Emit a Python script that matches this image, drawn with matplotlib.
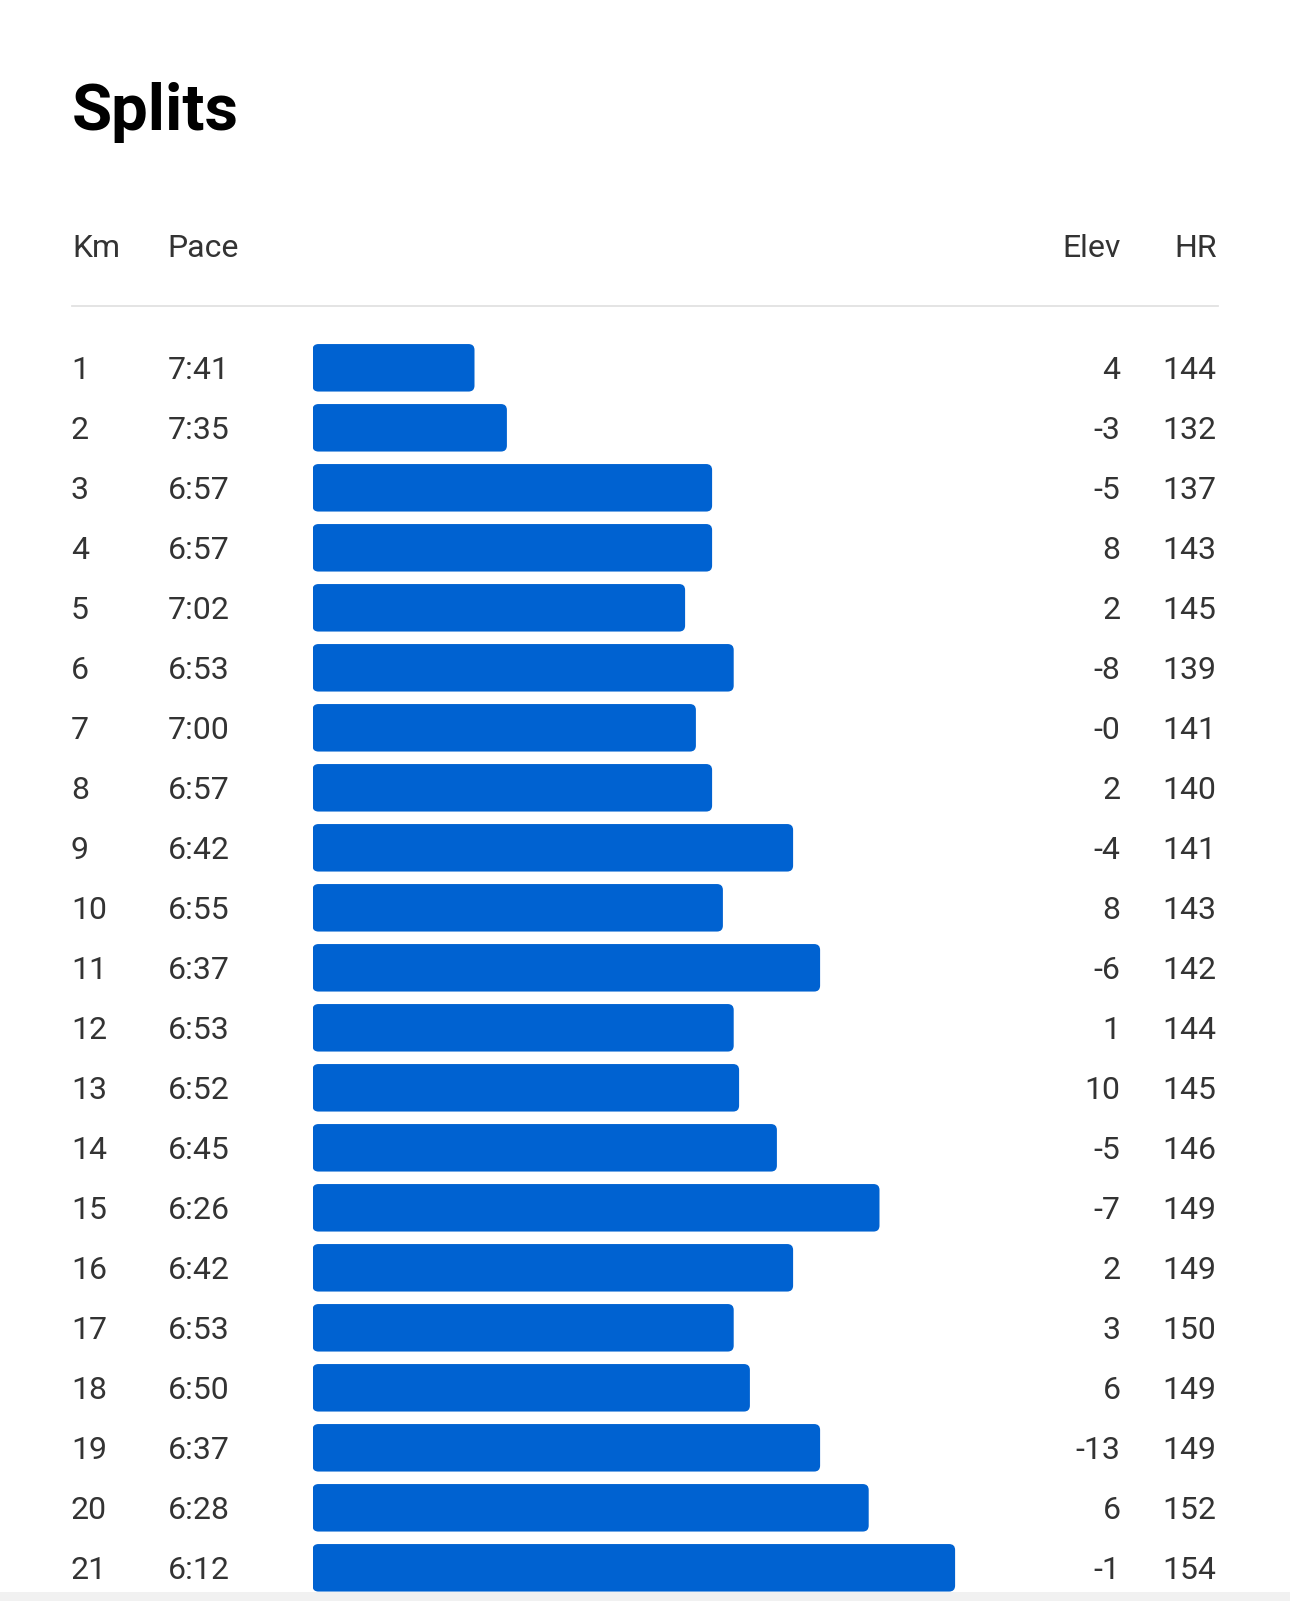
import matplotlib.pyplot as plt
import matplotlib.transforms as mtransforms
from matplotlib.patches import FancyBboxPatch, Rectangle
from matplotlib.lines import Line2D

km = list(range(1, 22))
pace = ["7:41", "7:35", "6:57", "6:57", "7:02", "6:53", "7:00", "6:57", "6:42", "6:55",
        "6:37", "6:53", "6:52", "6:45", "6:26", "6:42", "6:53", "6:50", "6:37", "6:28", "6:12"]
elev = ["4", "-3", "-5", "8", "2", "-8", "-0", "2", "-4", "8",
        "-6", "1", "10", "-5", "-7", "2", "3", "6", "-13", "6", "-1"]
hr = [144, 132, 137, 143, 145, 139, 141, 140, 141, 143,
      142, 144, 145, 146, 149, 149, 150, 149, 149, 152, 154]

W, H = 1290, 1601
BLUE = "#0062D1"
TXT = "#333333"
SLOWEST = 491  # pace (s) that maps to zero bar length
PX_PER_S = 5.40

pace_s = [int(p.split(":")[0]) * 60 + int(p.split(":")[1]) for p in pace]

plt.rcParams["font.family"] = ["Roboto", "DejaVu Sans"]
fig = plt.figure(figsize=(W / 100, H / 100), dpi=100)
fig.patch.set_facecolor("white")

# bar axes: x in seconds faster than SLOWEST, y in rows
ax_w = 800
row_h = 60.0
top = 367.8 - row_h / 2
ax = fig.add_axes([312.5 / W, 1 - (top + 21 * row_h) / H, ax_w / W, 21 * row_h / H])
ax.set_xlim(0, ax_w / PX_PER_S)
ax.set_ylim(21.5, 0.5)
ax.axis("off")

bar_h = 47.5 / row_h
aspect = PX_PER_S / row_h
for k, s in zip(km, pace_s):
    w = SLOWEST - s
    ax.add_patch(FancyBboxPatch((0, k - bar_h / 2), w, bar_h,
                                boxstyle="round,pad=0,rounding_size=1.1",
                                mutation_aspect=aspect, fc=BLUE, ec="none"))

trans = mtransforms.blended_transform_factory(fig.transFigure, ax.transData)
base = 11.5 / row_h
fs = 23
for k, p, e, h in zip(km, pace, elev, hr):
    y = k + base
    ax.text(71 / W, y, str(k), transform=trans, fontsize=fs, color=TXT, ha="left", va="baseline")
    ax.text(167.5 / W, y, p, transform=trans, fontsize=fs, color=TXT, ha="left", va="baseline")
    ax.text(1120.5 / W, y, e, transform=trans, fontsize=fs, color=TXT, ha="right", va="baseline")
    ax.text(1216.5 / W, y, str(h), transform=trans, fontsize=fs, color=TXT, ha="right", va="baseline")

# title and header
fig.text(72 / W, 1 - 130 / H, "Splits", fontsize=47, fontweight="bold", color="black",
         ha="left", va="baseline")
hy = 1 - 257 / H
fig.text(72 / W, hy, "Km", fontsize=fs, color=TXT, ha="left", va="baseline")
fig.text(167.5 / W, hy, "Pace", fontsize=fs, color=TXT, ha="left", va="baseline")
fig.text(1120.5 / W, hy, "Elev", fontsize=fs, color=TXT, ha="right", va="baseline")
fig.text(1217 / W, hy, "HR", fontsize=fs, color=TXT, ha="right", va="baseline")

fig.add_artist(Line2D([72 / W, 1218 / W], [1 - 306.5 / H] * 2, color="#e2e2e2", lw=1.3))

# faint strip at the bottom edge
fig.add_artist(Rectangle((0, 0), 1, 9 / H, transform=fig.transFigure, fc="#f1f1f1", ec="none"))

fig.savefig("out.png", dpi=100)
